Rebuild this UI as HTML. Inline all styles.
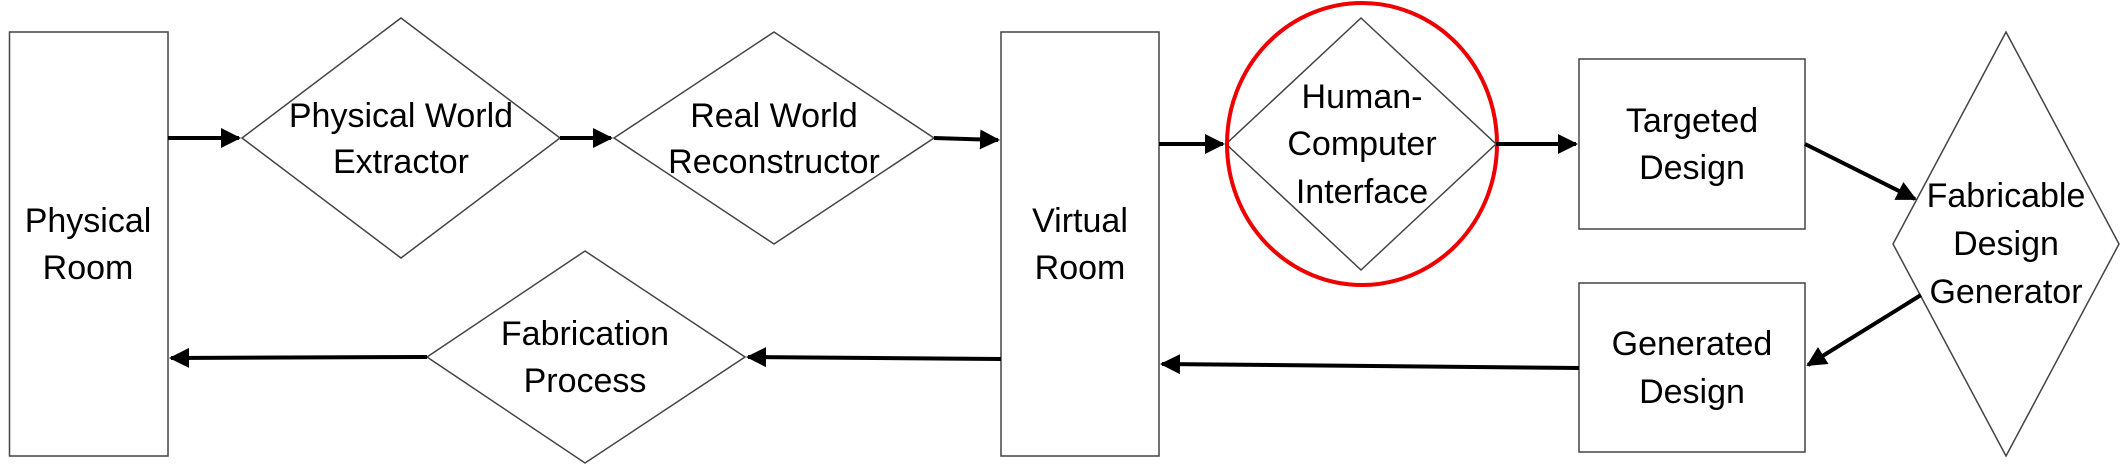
<!DOCTYPE html>
<html><head><style>html,body{margin:0;padding:0;background:#fff}svg{display:block}</style></head>
<body>
<svg width="2124" height="465" viewBox="0 0 2124 465" xmlns="http://www.w3.org/2000/svg">
<defs>
<marker id="a" markerWidth="5" markerHeight="5" refX="4.5" refY="2.5" orient="auto" markerUnits="strokeWidth">
<path d="M0,0 L5,2.5 L0,5 z" fill="#000"/>
</marker>
</defs>
<g fill="#fff" stroke="#444" stroke-width="1.5">
<rect x="9.5" y="32" width="158.5" height="424"/>
<polygon points="401,18 560,138 401,258 242,138"/>
<polygon points="774,32 934,138 774,244 614,138"/>
<rect x="1001" y="32" width="158" height="424"/>
<polygon points="585,251 745,357 585,463 427,357"/>
<polygon points="1361,18 1496,144 1361,270 1226,144"/>
<rect x="1579" y="59" width="226" height="170"/>
<rect x="1579" y="283" width="226" height="169"/>
<polygon points="2006,32 2119,244 2006,456 1893,244"/>
</g>
<ellipse cx="1362" cy="144" rx="135" ry="141" fill="none" stroke="#e00" stroke-width="4"/>
<g stroke="#000" stroke-width="4" fill="none" marker-end="url(#a)">
<line x1="168" y1="138" x2="239" y2="138"/>
<line x1="560" y1="138" x2="611" y2="138"/>
<line x1="934" y1="138" x2="998" y2="140"/>
<line x1="1159" y1="144" x2="1223" y2="144"/>
<line x1="1496" y1="144" x2="1576" y2="144"/>
<line x1="1805" y1="144" x2="1915" y2="199"/>
<line x1="1921" y1="295" x2="1808" y2="365"/>
<line x1="1579" y1="368" x2="1162" y2="364"/>
<line x1="1001" y1="359" x2="748" y2="357"/>
<line x1="427" y1="357" x2="171" y2="358"/>
</g>
<g font-family="Liberation Sans Narrow, Liberation Sans, sans-serif" font-size="34" text-anchor="middle" fill="#000">
<text x="88" y="232">Physical</text><text x="88" y="279">Room</text>
<text x="401" y="127">Physical World</text><text x="401" y="173">Extractor</text>
<text x="774" y="127">Real World</text><text x="774" y="173">Reconstructor</text>
<text x="1080" y="232">Virtual</text><text x="1080" y="279">Room</text>
<text x="585" y="345">Fabrication</text><text x="585" y="392">Process</text>
<text x="1362" y="108">Human-</text><text x="1362" y="155">Computer</text><text x="1362" y="203">Interface</text>
<text x="1692" y="132">Targeted</text><text x="1692" y="179">Design</text>
<text x="1692" y="355">Generated</text><text x="1692" y="403">Design</text>
<text x="2006" y="207">Fabricable</text><text x="2006" y="255">Design</text><text x="2006" y="303">Generator</text>
</g>
</svg>
</body></html>
